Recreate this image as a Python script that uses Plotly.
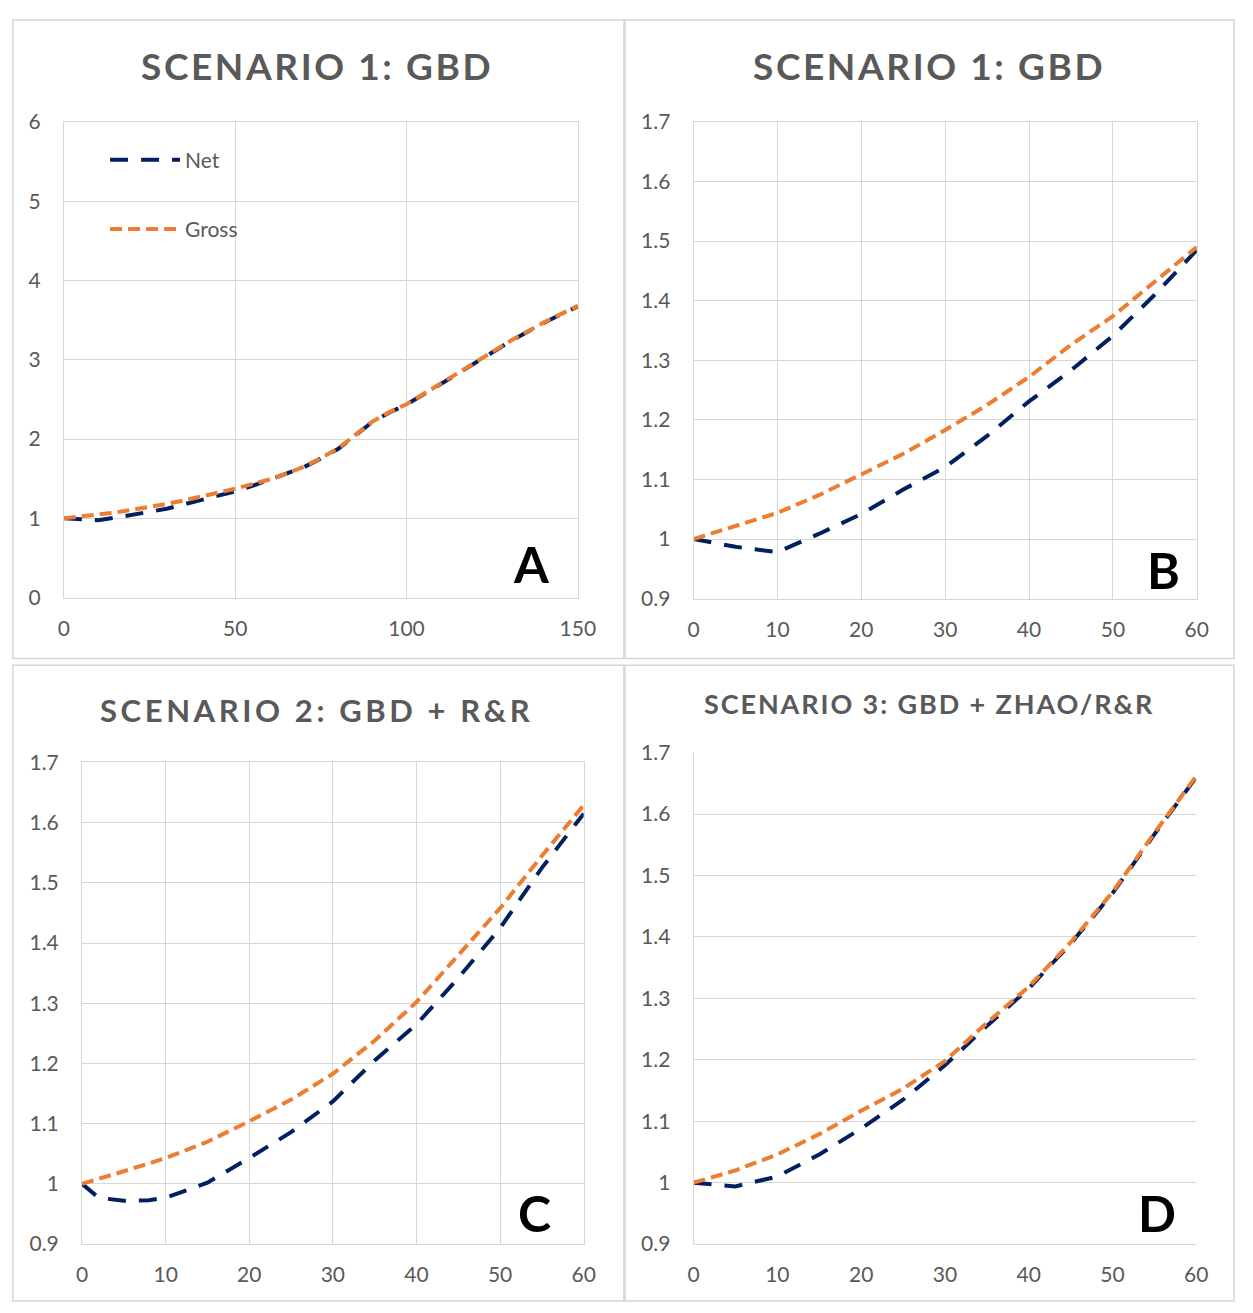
import plotly.graph_objects as go

# ---------------------------------------------------------------------------
# Data: ratio of cumulative effect vs. time for three scenarios
# ---------------------------------------------------------------------------
# Scenario 1 (GBD), long horizon 0-150
s1_long_x = [0, 5, 10, 15, 20, 25, 30, 35, 40, 45, 50, 55, 60, 65, 70, 75, 80, 85,
             90, 95, 100, 110, 120, 130, 140, 150]
s1_long_net = [1.0, 0.987, 0.978, 1.009, 1.042, 1.083, 1.121, 1.173, 1.231, 1.283,
               1.341, 1.41, 1.485, 1.56, 1.645, 1.755, 1.875, 2.045, 2.215, 2.335,
               2.435, 2.695, 2.955, 3.225, 3.465, 3.675]
s1_long_gross = [1.0, 1.022, 1.044, 1.074, 1.109, 1.143, 1.183, 1.225, 1.272, 1.326,
                 1.374, 1.432, 1.49, 1.565, 1.65, 1.76, 1.88, 2.05, 2.22, 2.34,
                 2.44, 2.70, 2.96, 3.23, 3.47, 3.68]

# Scenario 1 (GBD), 0-60
s1_x = [0, 5, 10, 15, 20, 25, 30, 35, 40, 45, 50, 55, 60]
s1_net = [1.0, 0.987, 0.978, 1.009, 1.042, 1.083, 1.121, 1.173, 1.231, 1.283,
          1.341, 1.41, 1.485]
s1_gross = [1.0, 1.022, 1.044, 1.074, 1.109, 1.143, 1.183, 1.225, 1.272, 1.326,
            1.374, 1.432, 1.49]

# Scenario 2 (GBD + R&R)
s2_x = [0, 2, 5, 8, 10, 15, 20, 25, 30, 35, 40, 45, 50, 55, 60]
s2_net = [1.0, 0.977, 0.972, 0.973, 0.977, 1.002, 1.043, 1.086, 1.137, 1.205,
          1.265, 1.342, 1.425, 1.525, 1.615]
s2_gross = [1.0, 1.008, 1.021, 1.034, 1.043, 1.07, 1.104, 1.14, 1.183, 1.238,
            1.302, 1.38, 1.458, 1.545, 1.629]

# Scenario 3 (GBD + ZHAO/R&R)
s3_x = [0, 5, 10, 15, 20, 25, 30, 35, 40, 45, 50, 55, 60]
s3_net = [1.0, 0.994, 1.010, 1.046, 1.088, 1.135, 1.191, 1.255, 1.316, 1.389,
          1.471, 1.567, 1.66]
s3_gross = [1.0, 1.020, 1.046, 1.079, 1.117, 1.153, 1.198, 1.260, 1.319, 1.391,
            1.473, 1.569, 1.662]

titles = ["SCENARIO 1: GBD", "SCENARIO 1: GBD", "SCENARIO 2: GBD + R&R",
          "SCENARIO 3: GBD + ZHAO/R&R"]
panel_letters = ["A", "B", "C", "D"]

long_xticks = [0, 50, 100, 150]
long_yticks = [0, 1, 2, 3, 4, 5, 6]
short_xticks = [0, 10, 20, 30, 40, 50, 60]
short_yticks = [0.9, 1.0, 1.1, 1.2, 1.3, 1.4, 1.5, 1.6, 1.7]
short_ylabels = ["0.9", "1", "1.1", "1.2", "1.3", "1.4", "1.5", "1.6", "1.7"]

# ---------------------------------------------------------------------------
# Styling
# ---------------------------------------------------------------------------
W, H = 1253, 1313
NET_COLOR = "#002060"
GROSS_COLOR = "#ED7D31"
GRID = "#d6d6d6"
TEXT = "#595959"
FONT = "Lato"

NET_DASH = "18px,13px"
GROSS_DASH = "12px,6px"
LINE_W = 4


def px_x(p):
    return p / W


def px_y(p):
    return 1 - p / H


# plot areas in pixels: (left, right, top, bottom)
areas = [
    (59, 583, 110, 595),
    (701, 1214, 110, 596),
    (77.5, 589, 763, 1254),
    (701, 1213.5, 753, 1254),
]

fig = go.Figure()

series = [
    (s1_long_x, s1_long_net, s1_long_gross),
    (s1_x, s1_net, s1_gross),
    (s2_x, s2_net, s2_gross),
    (s3_x, s3_net, s3_gross),
]

for i, (xs, net, gross) in enumerate(series):
    sfx = "" if i == 0 else str(i + 1)
    fig.add_trace(go.Scatter(
        x=xs, y=net, mode="lines", name="Net",
        line=dict(color=NET_COLOR, width=LINE_W, dash=NET_DASH),
        xaxis="x" + sfx, yaxis="y" + sfx,
        showlegend=(i == 0), legendgroup="net",
    ))
    fig.add_trace(go.Scatter(
        x=xs, y=gross, mode="lines", name="Gross",
        line=dict(color=GROSS_COLOR, width=LINE_W, dash=GROSS_DASH),
        xaxis="x" + sfx, yaxis="y" + sfx,
        showlegend=(i == 0), legendgroup="gross",
    ))

tick_font = dict(family=FONT, size=21, color=TEXT)
layout = dict(
    width=W, height=H,
    margin=dict(l=0, r=0, t=0, b=0),
    paper_bgcolor="white", plot_bgcolor="white",
    showlegend=True,
    legend=dict(
        x=px_x(101), y=px_y(128), xanchor="left", yanchor="top",
        font=dict(family=FONT, size=21, color=TEXT),
        bgcolor="rgba(0,0,0,0)", tracegroupgap=39, itemwidth=70,
    ),
)

for i, (l, r, t, b) in enumerate(areas):
    sfx = "" if i == 0 else str(i + 1)
    long_axis = i == 0
    full_grid = i < 3
    xa = dict(
        domain=[px_x(l), px_x(r)],
        range=[0, 150] if long_axis else [0, 60],
        tickvals=long_xticks if long_axis else short_xticks,
        showgrid=full_grid, gridcolor=GRID, gridwidth=1,
        zeroline=False, showline=True, linecolor=GRID, linewidth=1,
        mirror=full_grid, ticks="", tickfont=tick_font,
        ticklabelstandoff=12,
        anchor="y" + sfx, fixedrange=True,
    )
    ya = dict(
        domain=[px_y(b), px_y(t)],
        range=[0, 6] if long_axis else [0.9, 1.7],
        tickvals=long_yticks if long_axis else short_yticks,
        ticktext=[str(v) for v in long_yticks] if long_axis else short_ylabels,
        showgrid=True, gridcolor=GRID, gridwidth=1,
        zeroline=False, showline=True, linecolor=GRID, linewidth=1,
        mirror=full_grid, ticks="", tickfont=tick_font,
        ticklabelstandoff=18,
        anchor="x" + sfx, fixedrange=True,
    )
    layout["xaxis" + sfx] = xa
    layout["yaxis" + sfx] = ya

fig.update_layout(**layout)

# panel frames
frames = [
    (7, 630, 6, 657),
    (631, 1252, 6, 657),
    (7, 630, 664, 1312),
    (631, 1252, 664, 1312),
]
for (l, r, t, b) in frames:
    fig.add_shape(type="rect", xref="paper", yref="paper",
                  x0=px_x(l), x1=px_x(r), y0=px_y(b), y1=px_y(t),
                  line=dict(color=GRID, width=1.5), fillcolor="rgba(0,0,0,0)",
                  layer="below")

# panel titles
title_specs = [
    (317, 52, 37, 2.6),
    (941, 52, 37, 2.6),
    (317, 709, 31, 3.6),
    (941, 703, 27, 1.9),
]
for text, (cx, cy, size, ls) in zip(titles, title_specs):
    fig.add_annotation(
        xref="paper", yref="paper", x=px_x(cx), y=px_y(cy),
        xanchor="center", yanchor="middle", showarrow=False,
        text=f'<b><span style="letter-spacing:{ls}px">{text}</span></b>',
        font=dict(family=FONT, size=size, color=TEXT),
    )

# panel letters
letter_pos = [(535, 561), (1180, 567), (539, 1222), (1173, 1222)]
for letter, (cx, cy) in zip(panel_letters, letter_pos):
    fig.add_annotation(
        xref="paper", yref="paper", x=px_x(cx), y=px_y(cy),
        xanchor="center", yanchor="middle", showarrow=False,
        text=f"<b>{letter}</b>",
        font=dict(family=FONT, size=50, color="black"),
    )

# the page body gets no default margin so the figure fills the window exactly
fig.write_html(
    "out.html",
    post_script="document.body.style.margin='0';document.body.style.overflow='hidden';",
)
